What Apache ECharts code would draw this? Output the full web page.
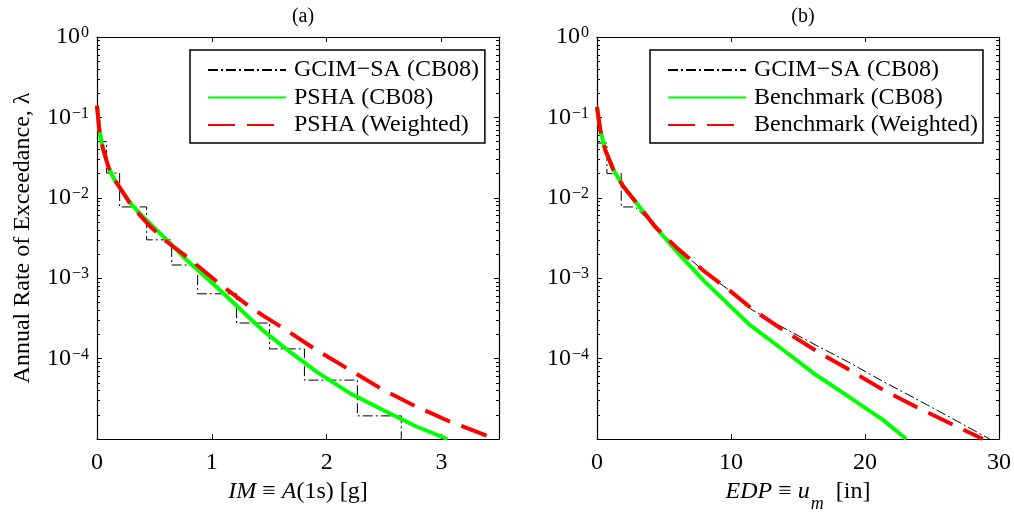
<!DOCTYPE html>
<html><head><meta charset="utf-8">
<script src="https://cdn.jsdelivr.net/npm/echarts@6/dist/echarts.min.js"></script>
<style>html,body{margin:0;padding:0;background:#fff}#c{width:1014px;height:512px}</style>
</head><body><div id="c"></div>
<script>
// ---------- DATA ----------
// Panel (a): IM = A(1s) [g]
const gcimStepEdgesA  = [0, 0.084, 0.197, 0.432, 0.65, 0.876, 1.215, 1.502, 1.806, 2.267, 2.649];
const gcimStepLevelsA = [0.05, 0.0203, 0.0077, 0.0030, 0.00146, 0.00064, 0.000277, 0.000132, 0.000054, 0.0000194, 0.00001];
const pshaCB08X = [0, 0.02, 0.05, 0.1, 0.15, 0.2, 0.3, 0.37, 0.52, 0.65, 0.78, 0.95, 1.1, 1.33, 1.44, 1.62, 1.91, 2.2, 2.49, 2.78, 3.05];
const pshaCB08Y = [0.14, 0.07, 0.042, 0.024, 0.017, 0.0133, 0.0083, 0.00645, 0.00397, 0.0026, 0.00168, 0.00102, 0.00065, 0.000318, 0.000227, 0.000141, 0.000069, 0.0000372, 0.000023, 0.0000143, 0.00001];
const pshaWX = [0, 0.02, 0.05, 0.1, 0.15, 0.2, 0.3, 0.45, 0.6, 0.78, 1.0, 1.1, 1.33, 1.45, 1.62, 1.91, 2.2, 2.49, 2.78, 3.07, 3.47];
const pshaWY = [0.14, 0.07, 0.042, 0.024, 0.017, 0.0133, 0.0080, 0.0046, 0.0029, 0.00185, 0.00102, 0.00078, 0.00044, 0.00034, 0.00024, 0.000128, 0.0000724, 0.0000409, 0.0000253, 0.0000165, 0.00001];

// Panel (b): EDP = u_m [in]
const gcimBX = [0, 0.74, 0.74, 1.81, 1.81, 2.85, 4.34, 6, 8, 10, 11.5, 13.9, 16.4, 18.9, 21.3, 23.8, 26.3, 29.3];
const gcimBY = [0.048, 0.048, 0.02, 0.02, 0.0077, 0.0077, 0.0044, 0.00235, 0.00122, 0.00068, 0.00041, 0.000243, 0.000145, 0.000088, 0.0000525, 0.0000316, 0.0000188, 0.00001];
const benchCB08X = [0, 0.25, 0.62, 1.24, 1.98, 2.98, 4.34, 6, 8, 10, 11.41, 13.9, 16.38, 18.86, 21.34, 23.08];
const benchCB08Y = [0.135, 0.069, 0.039, 0.0221, 0.0137, 0.0085, 0.00436, 0.0021, 0.00092, 0.00044, 0.000262, 0.000128, 0.000062, 0.000033, 0.0000173, 0.00001];
const benchWX = [0, 0.25, 0.62, 1.24, 1.98, 2.98, 4.34, 6, 8, 10, 11.66, 13.89, 16.38, 18.86, 21.34, 23.83, 26.3, 28.8];
const benchWY = [0.135, 0.069, 0.039, 0.0221, 0.0137, 0.0085, 0.00436, 0.00235, 0.00122, 0.00068, 0.000403, 0.000227, 0.000124, 0.000072, 0.000041, 0.000025, 0.0000158, 0.00001];

// Ticks / labels
const xTicksA = [0, 1, 2, 3];
const xTicksB = [0, 10, 20, 30];
const yLabelVals = [1, 0.1, 0.01, 0.001, 0.0001];
const yMajorVals = [1, 0.1, 0.01, 0.001, 0.0001, 0.00001];
const legendA = ['GCIM\u2212SA (CB08)', 'PSHA (CB08)', 'PSHA (Weighted)'];
const legendB = ['GCIM\u2212SA (CB08) ', 'Benchmark (CB08)', 'Benchmark (Weighted)'];

// ---------- BUILD ----------
const FONT = "'Liberation Serif','Times New Roman',serif";
const yMinorVals = [];
for (let k = -5; k < 0; k++) for (let m = 2; m <= 9; m++) yMinorVals.push(+(m * Math.pow(10, k)).toPrecision(3));
const pairs = (xs, ys) => xs.map((x, i) => [x, ys[i]]);

const axisLineS = { show: true, lineStyle: { color: '#000', width: 1.2 } };

function xAx(grid, max, ticks, pos, name, rich) {
  const o = {
    type: 'value', gridIndex: grid, min: 0, max: max, position: pos,
    splitLine: { show: false },
    axisLine: axisLineS,
    axisTick: { show: true, inside: true, length: 5, customValues: ticks, lineStyle: { color: '#000', width: 1 } },
    axisLabel: { show: pos === 'bottom', customValues: ticks, margin: 12, fontSize: 24, fontFamily: FONT, color: '#000' }
  };
  if (name) {
    o.name = name; o.nameLocation = 'middle'; o.nameGap = 38;
    o.nameTextStyle = { fontSize: 24, fontFamily: FONT, color: '#000', rich: rich };
  }
  return o;
}
function yAx(grid, pos, minor, withLabels, name) {
  const o = {
    type: 'log', logBase: 10, gridIndex: grid, min: 0.00001, max: 1, position: pos,
    splitLine: { show: false },
    axisLine: minor ? { show: false } : axisLineS,
    axisTick: { show: true, inside: true, length: minor ? 3 : 5, customValues: minor ? yMinorVals : yMajorVals, lineStyle: { color: '#000', width: 1 } },
    axisLabel: { show: !!withLabels }
  };
  if (withLabels) {
    o.axisLabel = {
      show: true, customValues: yLabelVals, margin: 8,
      formatter: v => { const e = Math.round(Math.log10(v)); return '{b|10}{e|' + (e < 0 ? '\u2212' + (-e) : e) + '}'; },
      rich: {
        b: { fontSize: 24, fontFamily: FONT, color: '#000', lineHeight: 24, verticalAlign: 'bottom' },
        e: { fontSize: 16, fontFamily: FONT, color: '#000', lineHeight: 16, verticalAlign: 'top', padding: [0, 0, 0, 1] }
      }
    };
  }
  if (name) {
    o.name = name; o.nameLocation = 'middle'; o.nameGap = 62; o.nameRotate = 90;
    o.nameTextStyle = { fontSize: 24, fontFamily: FONT, color: '#000' };
  }
  return o;
}

const italicRich = {
  i: { fontStyle: 'italic', fontSize: 24, fontFamily: FONT, color: '#000', lineHeight: 24, verticalAlign: 'top' },
  n: { fontSize: 24, fontFamily: FONT, color: '#000', lineHeight: 24, verticalAlign: 'top' },
  s: { fontStyle: 'italic', fontSize: 18, fontFamily: FONT, color: '#000', lineHeight: 18, verticalAlign: 'top', padding: [15, 0, 0, 1] }
};

const blackStyle = { color: '#000', width: 1, type: [10, 3, 2, 3] };
const greenStyle = { color: '#00ff00', width: 4, type: 'solid' };
const redStyle = { color: '#ff0000', width: 4, type: [27, 12] };

function line(name, data, xi, yi, ls, step) {
  return {
    type: 'line', name: name, data: data, xAxisIndex: xi, yAxisIndex: yi,
    showSymbol: false, symbol: 'none', smooth: false, step: step || false,
    lineStyle: ls, itemStyle: { color: ls.color }, animation: false, silent: true
  };
}

function legendBox(left, top, names, padRight) {
  return {
    orient: 'vertical', left: left, top: top, data: names, selectedMode: false,
    itemWidth: 78, itemHeight: 14, itemGap: 3.5, padding: [8, padRight, 6, 17],
    borderColor: '#000', borderWidth: 1.5, backgroundColor: '#fff',
    itemStyle: { opacity: 0 },
    textStyle: { fontSize: 24, fontFamily: FONT, color: '#000', lineHeight: 24, padding: [0, 0, 0, 3] }
  };
}

const option = {
  backgroundColor: '#fff',
  animation: false,
  title: [
    { text: '(a)', left: 298, top: 2, textAlign: 'center', textStyle: { fontSize: 20, fontWeight: 'normal', fontFamily: FONT, color: '#000' } },
    { text: '(b)', left: 798, top: 2, textAlign: 'center', textStyle: { fontSize: 20, fontWeight: 'normal', fontFamily: FONT, color: '#000' } }
  ],
  legend: [legendBox(190, 50, legendA, 6), legendBox(650, 50, legendB, 5)],
  grid: [
    { left: 97, top: 37, width: 402, height: 402, outerBoundsMode: 'none', containLabel: false },
    { left: 597, top: 37, width: 402, height: 402, outerBoundsMode: 'none', containLabel: false }
  ],
  xAxis: [
    xAx(0, 3.5, xTicksA, 'bottom', '{i|IM}{n| \u2261 }{i|A}{n|(1s) [g]}', italicRich),
    xAx(0, 3.5, xTicksA, 'top'),
    xAx(1, 30, xTicksB, 'bottom', '{i|EDP}{n| \u2261 }{i|u}{s|m}{n|  [in]}', italicRich),
    xAx(1, 30, xTicksB, 'top')
  ],
  yAxis: [
    yAx(0, 'left', false, true, 'Annual Rate of Exceedance, \u03bb'),
    yAx(0, 'left', true),
    yAx(0, 'right', false),
    yAx(0, 'right', true),
    yAx(1, 'left', false, true),
    yAx(1, 'left', true),
    yAx(1, 'right', false),
    yAx(1, 'right', true)
  ],
  series: [
    line(legendA[0], pairs(gcimStepEdgesA, gcimStepLevelsA), 0, 0, blackStyle, 'end'),
    line(legendA[1], pairs(pshaCB08X, pshaCB08Y), 0, 0, greenStyle),
    line(legendA[2], pairs(pshaWX, pshaWY), 0, 0, redStyle),
    line(legendB[0], pairs(gcimBX, gcimBY), 2, 4, blackStyle),
    line(legendB[1], pairs(benchCB08X, benchCB08Y), 2, 4, greenStyle),
    line(legendB[2], pairs(benchWX, benchWY), 2, 4, redStyle)
  ]
};
const chart = echarts.init(document.getElementById('c'));
chart.setOption(option);
</script>
</body></html>
